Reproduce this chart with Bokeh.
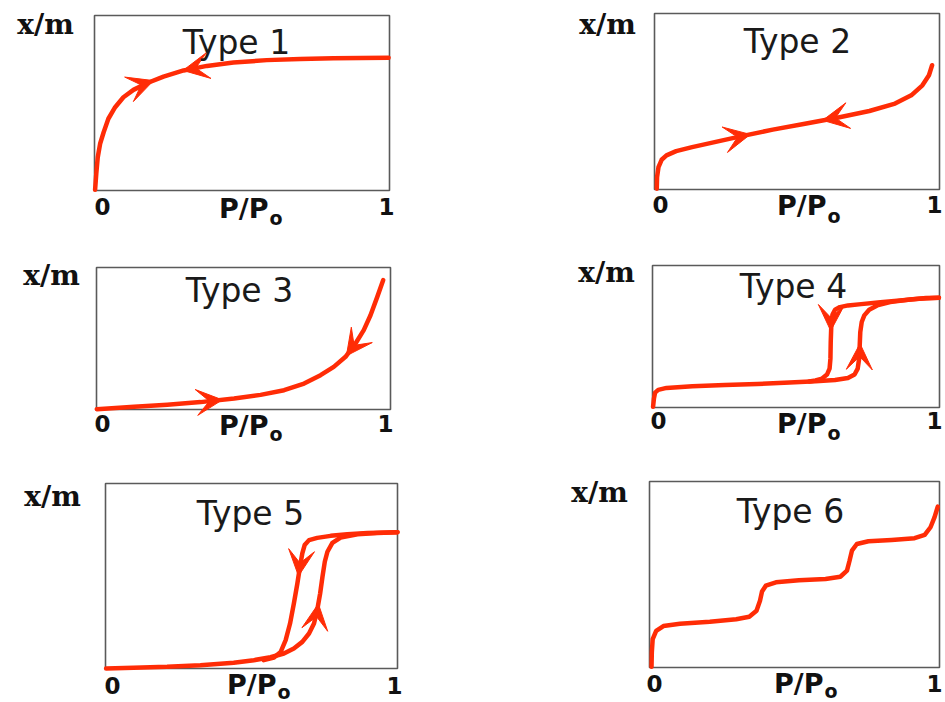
from bokeh.plotting import figure
from bokeh.layouts import column, row
from bokeh.models import Range1d, Label, Arrow, VeeHead
from bokeh.embed import file_html
from bokeh.resources import INLINE

RED = "#ff2c06"

# ---------------- data ----------------
type_labels = ["Type 1", "Type 2", "Type 3", "Type 4", "Type 5", "Type 6"]
tick_labels = ["0", "1"]
x_label = "P/P"
x_label_sub = "o"
y_label = "x/m"

t1_x = [0.002, 0.006, 0.011, 0.019, 0.031, 0.047, 0.070, 0.098, 0.132, 0.177, 0.234, 0.302, 0.381, 0.471, 0.584, 0.697, 0.810, 0.997]
t1_y = [0.004, 0.095, 0.190, 0.267, 0.333, 0.410, 0.476, 0.533, 0.575, 0.613, 0.651, 0.686, 0.712, 0.731, 0.745, 0.752, 0.756, 0.758]

t2_x = [0.008, 0.009, 0.014, 0.025, 0.042, 0.076, 0.132, 0.211, 0.302, 0.415, 0.528, 0.641, 0.754, 0.844, 0.901, 0.940, 0.963, 0.974]
t2_y = [0.004, 0.070, 0.127, 0.169, 0.194, 0.218, 0.241, 0.269, 0.302, 0.340, 0.374, 0.408, 0.446, 0.488, 0.535, 0.592, 0.649, 0.706]

t3_x = [0.001, 0.128, 0.241, 0.354, 0.468, 0.558, 0.638, 0.706, 0.762, 0.807, 0.847, 0.881, 0.909, 0.932, 0.955, 0.975]
t3_y = [0.002, 0.019, 0.033, 0.052, 0.077, 0.103, 0.136, 0.183, 0.242, 0.300, 0.371, 0.465, 0.559, 0.664, 0.793, 0.911]

t4_ads_x = [0.002, 0.005, 0.009, 0.020, 0.049, 0.139, 0.252, 0.365, 0.478, 0.568, 0.636, 0.681, 0.704, 0.715, 0.720, 0.722, 0.724, 0.729, 0.738, 0.755, 0.783, 0.828, 0.896, 0.953, 0.998]
t4_ads_y = [0.005, 0.063, 0.105, 0.124, 0.138, 0.150, 0.159, 0.166, 0.176, 0.185, 0.194, 0.208, 0.232, 0.274, 0.344, 0.438, 0.532, 0.602, 0.649, 0.689, 0.719, 0.742, 0.761, 0.771, 0.773]
t4_des_x = [0.998, 0.930, 0.862, 0.794, 0.727, 0.681, 0.653, 0.636, 0.627, 0.623, 0.621, 0.620, 0.617, 0.608, 0.591, 0.568, 0.546]
t4_des_y = [0.773, 0.766, 0.754, 0.742, 0.728, 0.719, 0.707, 0.689, 0.653, 0.578, 0.461, 0.344, 0.274, 0.232, 0.204, 0.190, 0.183]

t5_ads_x = [0.002, 0.096, 0.211, 0.325, 0.439, 0.508, 0.565, 0.611, 0.645, 0.674, 0.697, 0.714, 0.725, 0.735, 0.743, 0.751, 0.760, 0.777, 0.805, 0.863, 0.931, 1.000]
t5_ads_y = [0.000, 0.004, 0.009, 0.018, 0.031, 0.045, 0.061, 0.081, 0.108, 0.144, 0.189, 0.243, 0.315, 0.405, 0.495, 0.577, 0.631, 0.679, 0.708, 0.726, 0.733, 0.737]
t5_des_x = [1.000, 0.897, 0.828, 0.771, 0.725, 0.697, 0.682, 0.674, 0.666, 0.657, 0.645, 0.632, 0.617, 0.600, 0.577, 0.542]
t5_des_y = [0.737, 0.733, 0.726, 0.717, 0.706, 0.694, 0.667, 0.622, 0.550, 0.459, 0.351, 0.243, 0.153, 0.090, 0.059, 0.045]

t6_x = [0.007, 0.008, 0.011, 0.023, 0.048, 0.105, 0.208, 0.299, 0.344, 0.369, 0.381, 0.388, 0.401, 0.436, 0.515, 0.607, 0.658, 0.681, 0.690, 0.698, 0.715, 0.755, 0.835, 0.914, 0.949, 0.969, 0.983, 0.994]
t6_y = [0.004, 0.081, 0.153, 0.197, 0.223, 0.235, 0.246, 0.259, 0.273, 0.305, 0.359, 0.409, 0.440, 0.458, 0.469, 0.476, 0.488, 0.521, 0.575, 0.628, 0.664, 0.679, 0.686, 0.695, 0.713, 0.754, 0.808, 0.865]

curves = [
    [(t1_x, t1_y)],
    [(t2_x, t2_y)],
    [(t3_x, t3_y)],
    [(t4_ads_x, t4_ads_y), (t4_des_x, t4_des_y)],
    [(t5_ads_x, t5_ads_y), (t5_des_x, t5_des_y)],
    [(t6_x, t6_y)],
]

# arrowheads: (x_start, y_start, x_tip, y_tip) along each curve
arrows = [
    [(0.170, 0.610, 0.200, 0.628), (0.360, 0.705, 0.300, 0.686)],
    [(0.280, 0.294, 0.336, 0.313), (0.650, 0.411, 0.590, 0.393)],
    [(0.370, 0.056, 0.428, 0.068), (0.872, 0.440, 0.850, 0.378)],
    [(0.622, 0.620, 0.621, 0.540), (0.722, 0.370, 0.723, 0.450)],
    [(0.667, 0.580, 0.661, 0.500), (0.722, 0.270, 0.729, 0.350)],
    [],
]

# ---------------- layout (page pixels) ----------------
# figure origin/size and edges of the plotted box
geo = [
    dict(fx=0,   fy=0,   fw=560, fh=240, L=94,  R=389, T=15,  B=190),
    dict(fx=560, fy=0,   fw=385, fh=240, L=654, R=939, T=13,  B=189),
    dict(fx=0,   fy=240, fw=560, fh=215, L=96,  R=390, T=267, B=409),
    dict(fx=560, fy=240, fw=385, fh=215, L=652, R=939, T=265, B=407),
    dict(fx=0,   fy=455, fw=560, fh=247, L=105, R=397, T=483, B=668),
    dict(fx=560, fy=455, fw=385, fh=247, L=649, R=939, T=481, B=667),
]
# text anchor positions (page pixels)
txt = [
    dict(xm=(45, 24),  ty=(236, 42),  z=(102, 206), o=(386, 206), pp=(268, 208), sub=217),
    dict(xm=(607, 24), ty=(797, 41),  z=(660, 204), o=(934, 204), pp=(826, 205), sub=215),
    dict(xm=(51, 275), ty=(239, 290), z=(102, 423), o=(385, 423), pp=(268, 425), sub=433),
    dict(xm=(606, 272), ty=(793, 286), z=(658, 420), o=(934, 420), pp=(826, 423), sub=432),
    dict(xm=(52, 496), ty=(250, 513), z=(112, 685), o=(394, 685), pp=(276, 684), sub=691),
    dict(xm=(599, 492), ty=(790, 511), z=(654, 683), o=(934, 683), pp=(823, 683), sub=690),
]


def make_panel(i):
    g = geo[i]
    t = txt[i]
    W = g["R"] - g["L"]
    H = g["B"] - g["T"]
    xr = Range1d((g["fx"] - g["L"]) / W, (g["fx"] + g["fw"] - g["L"]) / W)
    yr = Range1d((g["B"] - (g["fy"] + g["fh"])) / H, (g["B"] - g["fy"]) / H)
    p = figure(width=g["fw"], height=g["fh"], output_backend="svg", toolbar_location=None,
               x_axis_location=None, y_axis_location=None, x_range=xr, y_range=yr,
               min_border=0)
    p.grid.visible = False
    p.outline_line_color = None
    p.background_fill_color = "white"
    p.border_fill_color = "white"

    def d(px, py):
        return ((px - g["L"]) / W, (g["B"] - py) / H)

    # plot box spanning the axis domain 0..1
    p.quad(left=[0], right=[1], bottom=[0], top=[1], fill_color=None,
           line_color="#5a5a5a", line_width=1.6)

    for cx, cy in curves[i]:
        p.line(cx, cy, line_color=RED, line_width=4.5, line_join="round", line_cap="round")

    for (xs, ys, xe, ye) in arrows[i]:
        p.add_layout(Arrow(x_start=xs, y_start=ys, x_end=xe, y_end=ye, line_color=None,
                           end=VeeHead(size=26, fill_color=RED, line_color=RED, line_width=1)))

    def lab(text, pos, font, size, style, align="center", color="#111111"):
        x, y = d(*pos)
        p.add_layout(Label(x=x, y=y, text=text, text_font=font, text_font_size=size,
                           text_font_style=style, text_align=align, text_baseline="middle",
                           text_color=color))

    lab(y_label, t["xm"], "DejaVu Serif", "28px", "bold")
    lab(type_labels[i], t["ty"], "DejaVu Sans", "33px", "normal", color="#1a1a1a")
    lab(tick_labels[0], t["z"], "DejaVu Sans", "23px", "bold")
    lab(tick_labels[1], t["o"], "DejaVu Sans", "23px", "bold")
    lab(x_label, t["pp"], "DejaVu Sans", "27px", "bold", align="right")
    lab(x_label_sub, (t["pp"][0] + 1, t["sub"]), "DejaVu Sans", "19px", "bold", align="left")
    return p


panels = [make_panel(i) for i in range(6)]
layout = column(row(panels[0], panels[1]), row(panels[2], panels[3]), row(panels[4], panels[5]))

open("out.html", "w").write(file_html(layout, INLINE))
